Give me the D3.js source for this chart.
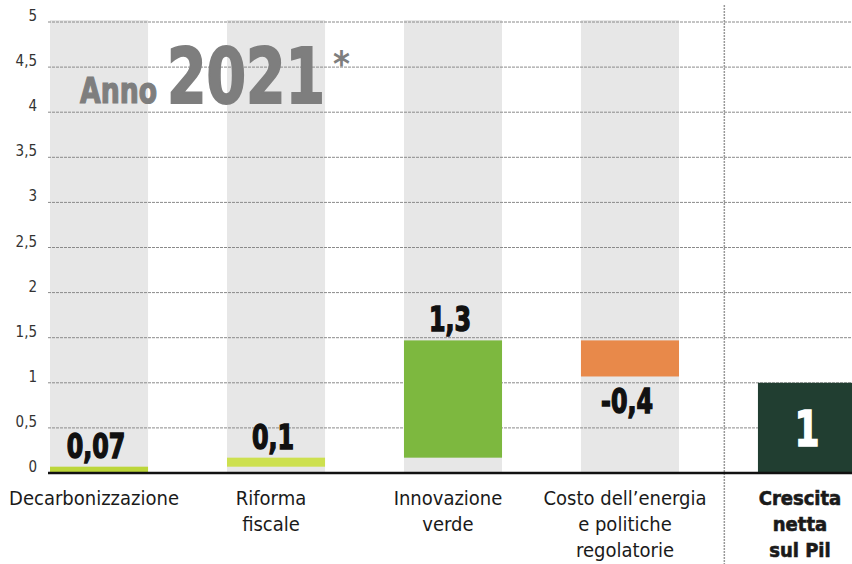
<!DOCTYPE html>
<html>
<head>
<meta charset="utf-8">
<script src="https://cdn.jsdelivr.net/npm/d3@7"></script>
<style>
  body { margin: 0; background: #fff; }
  text { font-family: "Liberation Sans Narrow", "DejaVu Sans Condensed", sans-serif; }
</style>
</head>
<body>
<svg id="chart" width="852" height="564"></svg>
<script>
// Contributi alla crescita del Pil, anno 2021
const categories = ["Decarbonizzazione", "Riforma fiscale", "Innovazione verde",
  "Costo dell'energia e politiche regolatorie", "Crescita netta sul Pil"];
const labelLines = [
  ["Decarbonizzazione"],
  ["Riforma", "fiscale"],
  ["Innovazione", "verde"],
  ["Costo dell\u2019energia", "e politiche", "regolatorie"],
  ["Crescita", "netta", "sul Pil"]
];
const values = [0.07, 0.1, 1.3, -0.4, 1];
const valueLabels = ["0,07", "0,1", "1,3", "-0,4", "1"];
const isTotal = [false, false, false, false, true];
const barColors = ["#bcd63a", "#cde04f", "#7db83f", "#e8894a", "#213e31"];
const yTicks = [0, 0.5, 1, 1.5, 2, 2.5, 3, 3.5, 4, 4.5, 5];

const svg = d3.select('#chart');
const width = 852;

const x = d3.scaleBand()
    .domain(categories)
    .range([50, 856])
    .paddingInner(0.446)
    .paddingOuter(0);

const y = d3.scaleLinear()
    .domain([0, 5])
    .range([473, 22]);

const fmt = d3.formatLocale({ decimal: ",", thousands: ".", grouping: [3], currency: ["", "€"] }).format("~g");

// waterfall steps
let run = 0;
const steps = values.map((v, i) => {
    let start, end;
    if (isTotal[i]) { start = 0; end = v; }
    else { start = run; end = run + v; run = end; }
    return { cat: categories[i], lines: labelLines[i], v, start, end, label: valueLabels[i], color: barColors[i], total: isTotal[i] };
});

// gray background columns
svg.selectAll('.col')
    .data(steps.filter(d => !d.total))
    .enter().append('rect')
    .attr('x', d => x(d.cat))
    .attr('y', y(5) - 2)
    .attr('width', x.bandwidth())
    .attr('height', y(0) - y(5) + 2)
    .style('fill', '#e7e7e7');

// grid
svg.selectAll('.grid')
    .data(yTicks.filter(t => t > 0))
    .enter().append('line')
    .attr('x1', 48).attr('x2', width)
    .attr('y1', d => y(d)).attr('y2', d => y(d))
    .style('stroke', '#8a8a8a')
    .style('stroke-width', 1)
    .style('stroke-dasharray', '3,1');

// y tick labels
svg.selectAll('.tick')
    .data(yTicks)
    .enter().append('text')
    .attr('x', 37)
    .attr('y', d => y(d) - 1)
    .attr('text-anchor', 'end')
    .style('font-size', '15px')
    .style('fill', '#333')
    .text(d => fmt(d));

// separator before the total
const step = x.step();
const sepX = x(categories[categories.length - 1]) - step * 0.19;
svg.append('line')
    .attr('x1', sepX).attr('x2', sepX)
    .attr('y1', 5).attr('y2', 564)
    .style('stroke', '#999')
    .style('stroke-width', 1.5)
    .style('stroke-dasharray', '2,1');

// bars
svg.selectAll('.bar')
    .data(steps)
    .enter().append('rect')
    .attr('x', d => x(d.cat))
    .attr('y', d => y(Math.max(d.start, d.end)))
    .attr('width', x.bandwidth())
    .attr('height', d => Math.abs(y(d.start) - y(d.end)))
    .style('fill', d => d.color);

// baseline
svg.append('line')
    .attr('x1', 48).attr('x2', width)
    .attr('y1', y(0)).attr('y2', y(0))
    .style('stroke', '#111')
    .style('stroke-width', 2.5);

// value labels (squeezed horizontally to mimic the condensed newspaper face)
svg.selectAll('.val')
    .data(steps)
    .enter().append('text')
    .attr('transform', d => {
        const cx = x(d.cat) + x.bandwidth() / 2 - (d.total ? 0 : 3);
        let yy;
        if (d.total) yy = y(d.end / 2) + 18;
        else if (d.v < 0) yy = y(d.end) + 37;
        else yy = y(d.end) - 9;
        return `translate(${cx},${yy}) scale(0.8,1)`;
    })
    .attr('text-anchor', 'middle')
    .style('font-size', d => d.total ? '50px' : '33px')
    .style('font-weight', 'bold')
    .style('fill', d => d.total ? '#fff' : '#111')
    .style('stroke', d => d.total ? '#fff' : '#111')
    .style('stroke-width', 1.4)
    .text(d => d.label);

// category labels
const catG = svg.selectAll('.cat')
    .data(steps)
    .enter().append('text')
    .attr('text-anchor', 'middle')
    .style('font-size', '20px')
    .style('font-weight', d => d.total ? 'bold' : 'normal')
    .style('fill', '#1a1a1a')
    .style('stroke', d => d.total ? '#1a1a1a' : 'none')
    .style('stroke-width', 0.6);

catG.selectAll('tspan')
    .data(d => d.lines.map(l => ({ l, d })))
    .enter().append('tspan')
    .attr('x', o => x(o.d.cat) + x.bandwidth() / 2 - (o.d.total ? 7 : 5))
    .attr('y', (o, i) => 505 + i * 26)
    .text(o => o.l);

// title: "Anno 2021*" - each word squeezed to its width in the print
const gray = '#7e7e7e';
const title = svg.append('g').style('fill', gray);
function squeezed(txt, left, base, size, targetW, sw) {
    const t = title.append('text')
        .style('font-size', size + 'px')
        .style('font-weight', 'bold')
        .style('stroke', gray).style('stroke-width', sw)
        .text(txt);
    const w = t.node().getComputedTextLength();
    t.attr('transform', `translate(${left},${base}) scale(${targetW / w},1)`);
    return t;
}
squeezed('Anno', 80, 103, 35, 77, 1.2);
squeezed('2021', 167, 103, 77, 158, 2);
title.append('text')
    .attr('x', 333).attr('y', 76)
    .style('font-size', '36px')
    .style('font-weight', 'bold')
    .text('*');
</script>
</body>
</html>
